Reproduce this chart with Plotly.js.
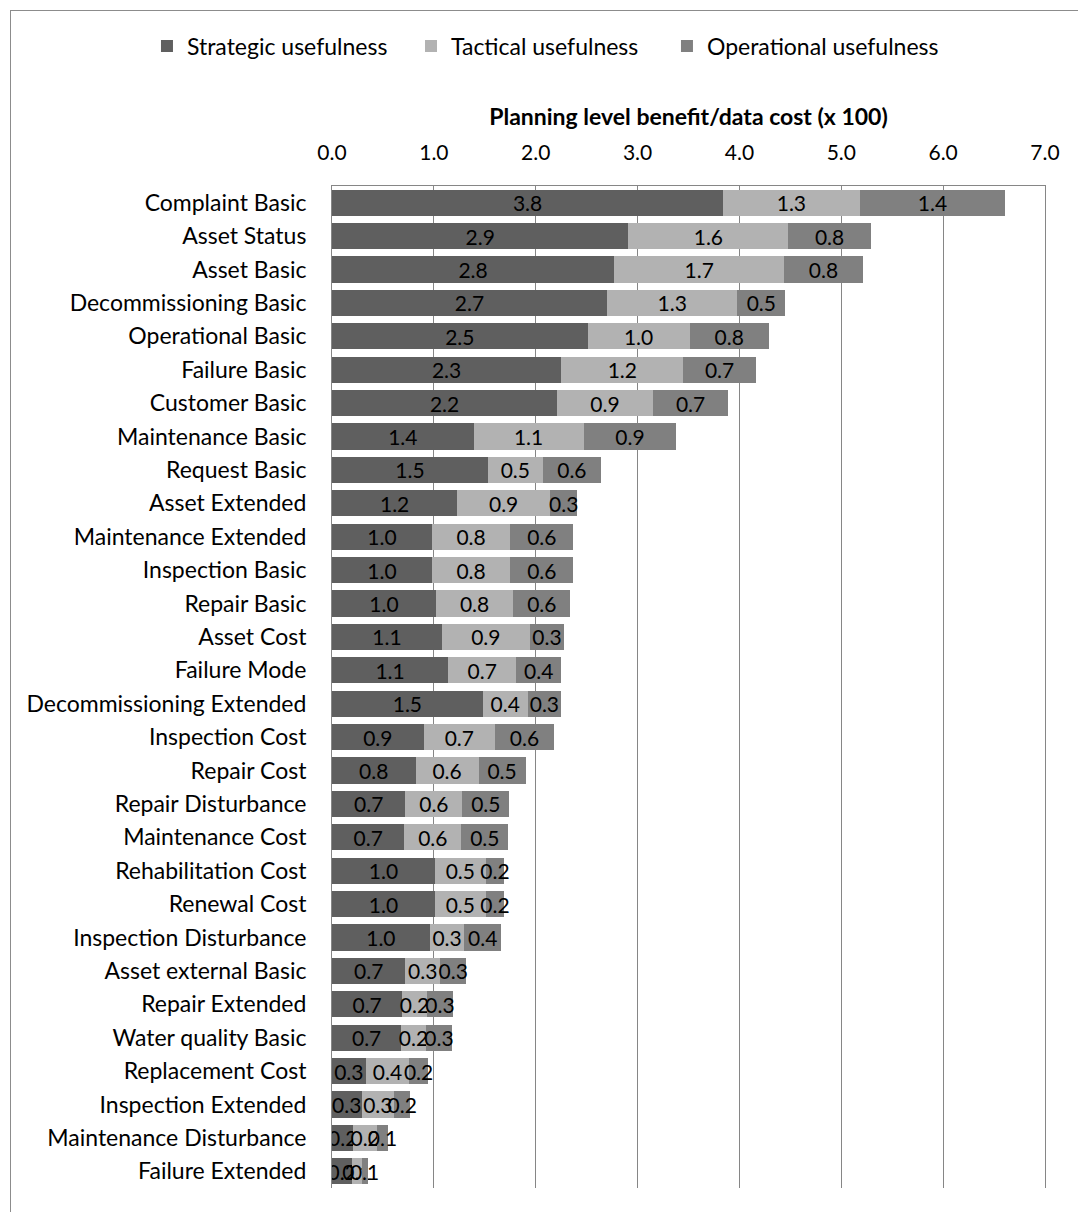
<!DOCTYPE html>
<html>
<head>
<meta charset="utf-8">
<script src="https://cdn.plot.ly/plotly-3.0.1.min.js"></script>
<style>
  html, body { margin: 0; padding: 0; background: #ffffff; overflow: hidden; }
  #wrap { position: relative; width: 1078px; height: 1212px; }
  #chart { position: absolute; left: 0; top: 0; width: 1078px; height: 1212px; }
  #frame { position: absolute; left: 10px; top: 10px; width: 1200px; height: 1300px;
           border: 1px solid #8c8c8c; pointer-events: none; box-sizing: border-box; }
</style>
</head>
<body>
<div id="wrap">
  <div id="chart"></div>
  <div id="frame"></div>
</div>
<script>
const categories = [
  "Complaint Basic", "Asset Status", "Asset Basic", "Decommissioning Basic",
  "Operational Basic", "Failure Basic", "Customer Basic", "Maintenance Basic",
  "Request Basic", "Asset Extended", "Maintenance Extended", "Inspection Basic",
  "Repair Basic", "Asset Cost", "Failure Mode", "Decommissioning Extended",
  "Inspection Cost", "Repair Cost", "Repair Disturbance", "Maintenance Cost",
  "Rehabilitation Cost", "Renewal Cost", "Inspection Disturbance", "Asset external Basic",
  "Repair Extended", "Water quality Basic", "Replacement Cost", "Inspection Extended",
  "Maintenance Disturbance", "Failure Extended"
];

const strategic = [3.84, 2.91, 2.77, 2.70, 2.51, 2.25, 2.21, 1.39, 1.53, 1.23,
                   0.98, 0.98, 1.02, 1.08, 1.14, 1.48, 0.90, 0.82, 0.72, 0.71,
                   1.01, 1.01, 0.96, 0.72, 0.69, 0.68, 0.33, 0.29, 0.21, 0.20];

const tactical = [1.34, 1.57, 1.67, 1.28, 1.00, 1.20, 0.94, 1.08, 0.54, 0.91,
                  0.77, 0.77, 0.76, 0.86, 0.67, 0.44, 0.70, 0.62, 0.56, 0.56,
                  0.50, 0.50, 0.34, 0.34, 0.24, 0.24, 0.43, 0.32, 0.23, 0.09];

const operational = [1.43, 0.81, 0.77, 0.47, 0.78, 0.71, 0.74, 0.91, 0.57, 0.27,
                     0.62, 0.62, 0.56, 0.34, 0.44, 0.33, 0.58, 0.46, 0.46, 0.46,
                     0.18, 0.18, 0.36, 0.26, 0.26, 0.26, 0.18, 0.16, 0.11, 0.06];

const seriesNames = ["Strategic usefulness", "Tactical usefulness", "Operational usefulness"];
const xTickValues = [0, 1, 2, 3, 4, 5, 6, 7];

const FONT = "Lato, 'Open Sans', 'DejaVu Sans', sans-serif";
const TEXT_SIZE = 23;
const NUM_SIZE = 21;
const colors = ["#5f5f5f", "#b2b2b2", "#808080"];
const seriesValues = [strategic, tactical, operational];
const legendIds = ["legend", "legend2", "legend3"];
const legendX = [-0.2595, 0.1108, 0.4698];

const traces = seriesValues.map((vals, i) => ({
  type: "bar",
  orientation: "h",
  name: seriesNames[i],
  legend: legendIds[i],
  y: categories,
  x: vals,
  marker: { color: colors[i], line: { width: 0 } },
  texttemplate: "%{x:.1f}",
  textposition: "inside",
  insidetextanchor: "middle",
  textangle: 0,
  constraintext: "none",
  insidetextfont: { family: FONT, size: NUM_SIZE, color: "#000000" },
  hoverinfo: "skip"
}));

const layout = {
  width: 1078,
  height: 1212,
  barmode: "stack",
  bargap: 0.22,
  paper_bgcolor: "#ffffff",
  plot_bgcolor: "#ffffff",
  margin: { l: 332, r: 33, t: 186, b: 24, pad: 0, autoexpand: false },
  font: { family: FONT, size: TEXT_SIZE, color: "#000000" },
  uniformtext: { mode: "show", minsize: NUM_SIZE },
  showlegend: true,
  xaxis: {
    side: "top",
    range: [0, 7],
    tickvals: xTickValues,
    tickformat: ".1f",
    showgrid: true,
    gridcolor: "#868686",
    gridwidth: 1,
    zeroline: false,
    showline: true,
    linecolor: "#868686",
    linewidth: 1,
    ticks: "",
    ticklabelstandoff: 17,
    automargin: false,
    tickfont: { family: FONT, size: NUM_SIZE, color: "#000000" },
    title: {
      text: "Planning level benefit/data cost (x 100)",
      font: { family: FONT, size: TEXT_SIZE, color: "#000000", weight: "bold" },
      standoff: 6
    },
    fixedrange: true
  },
  yaxis: {
    type: "category",
    autorange: "reversed",
    showgrid: false,
    zeroline: false,
    showline: true,
    mirror: true,
    linecolor: "#868686",
    linewidth: 1,
    ticks: "",
    ticklabelstandoff: 20,
    automargin: false,
    tickfont: { family: FONT, size: TEXT_SIZE, color: "#000000" },
    fixedrange: true
  }
};

legendIds.forEach((id, i) => {
  layout[id] = {
    orientation: "h",
    x: legendX[i], xanchor: "left",
    y: 1.1397, yanchor: "middle",
    font: { family: FONT, size: TEXT_SIZE, color: "#000000" },
    itemwidth: 30,
    bgcolor: "rgba(0,0,0,0)"
  };
});

Plotly.newPlot("chart", traces, layout, { displayModeBar: false, staticPlot: true });
</script>
</body>
</html>
